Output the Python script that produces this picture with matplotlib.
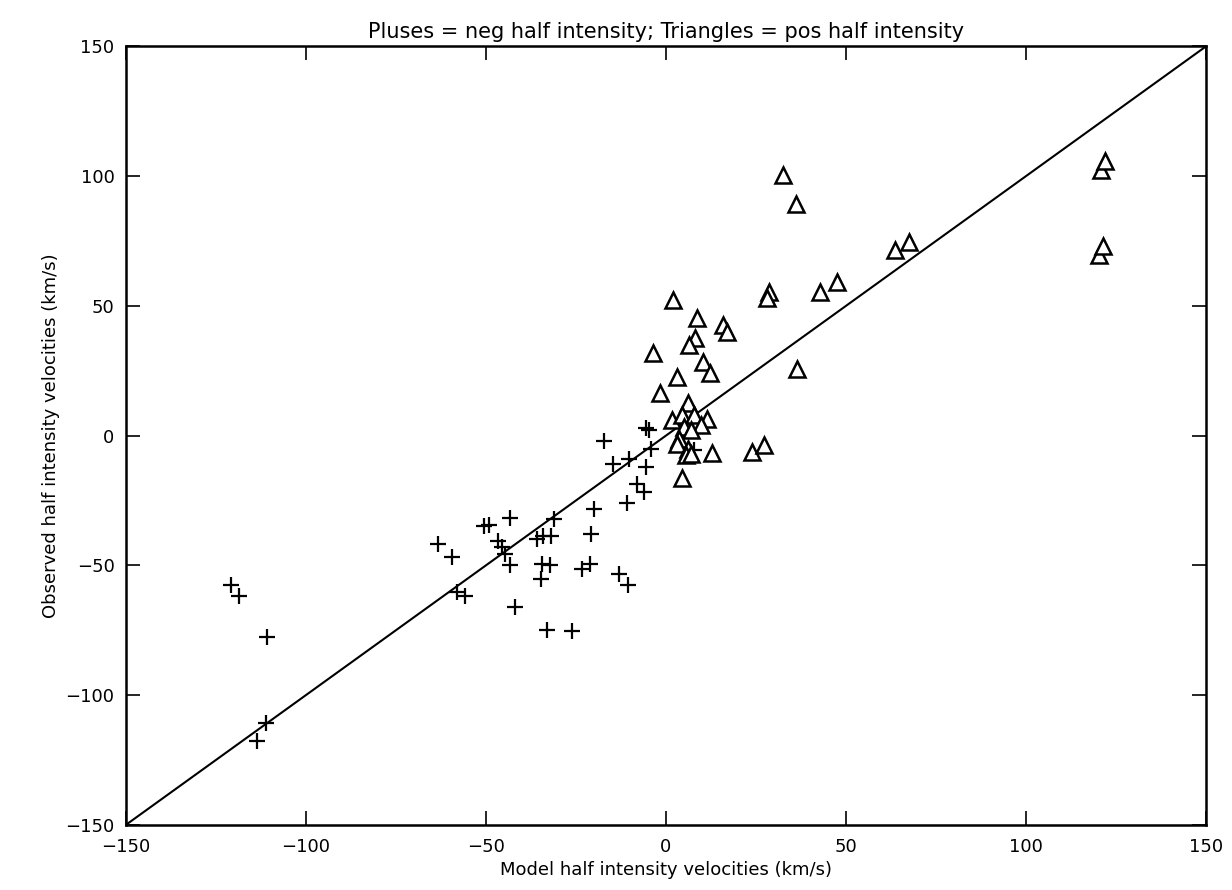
import numpy as np
import matplotlib
matplotlib.use("Agg")
import matplotlib.pyplot as plt

# negative half intensity (pluses): model, observed
neg_model = [-17.2, -14.8, -10.2, -5.6, -4.2, -7.9, -6.0, -10.9, -20.0, -20.9,
             -43.4, -50.6, -49.0, -63.4, -59.4, -46.7, -45.5, -44.6, -43.4,
             -31.1, -35.7, -34.0, -31.8, -34.5, -32.2, -34.8, -23.2, -21.1,
             -13.0, -10.5, -58.0, -55.7, -42.0, -33.1, -26.0,
             -120.7, -118.6, -110.8, -110.9, -113.4, -5.6, -4.6, 7.4, 7.9]
neg_obs = [-2.2, -10.8, -8.9, -12.1, -5.0, -18.5, -21.7, -26.0, -28.3, -37.9,
           -31.8, -34.9, -34.4, -41.7, -46.8, -40.4, -42.9, -45.6, -49.9,
           -32.0, -39.8, -38.5, -38.7, -49.4, -49.8, -55.4, -51.4, -49.4,
           -53.3, -57.5, -60.1, -61.9, -66.0, -75.0, -75.4,
           -57.6, -61.8, -77.7, -110.8, -117.8, 3.0, 2.2, 5.3, -5.7]

# positive half intensity (triangles): model, observed
pos_model = [1.9, 8.5, 15.8, 16.9, 8.1, 6.5, -3.7, 10.2, 12.3, 3.1, -1.6, 6.0,
             1.6, 4.6, 7.9, 11.4, 9.7, 5.1, 7.0, 3.7, 3.2, 6.0, 5.6, 7.0,
             12.8, 24.0, 27.2, 4.5, 36.5, 28.6, 28.1, 32.5, 36.2, 63.6, 67.6,
             42.7, 47.6, 120.9, 122.0, 120.3, 121.3]
pos_obs = [52.2, 45.2, 42.8, 39.8, 37.7, 35.0, 32.0, 28.2, 24.3, 22.7, 16.6, 12.7,
           5.9, 7.8, 7.8, 6.3, 4.0, 3.4, 2.0, -1.2, -3.1, -5.0, -7.6, -6.9,
           -6.6, -6.3, -3.5, -16.3, 25.6, 55.5, 52.9, 100.5, 89.2, 71.4, 74.5,
           55.2, 59.1, 102.3, 105.8, 69.6, 72.9]

ticks = [-150, -100, -50, 0, 50, 100, 150]

plt.rcParams['font.family'] = ['DejaVu Sans']
fig = plt.figure(figsize=(12.32, 8.9), dpi=100)
ax = fig.add_axes([0.102, 0.073, 0.877, 0.875])

ax.plot([-150, 150], [-150, 150], color='black', lw=1.5)
ax.plot(neg_model, neg_obs, linestyle='none', marker='+', ms=12, mew=1.6,
        color='black')
ax.plot(pos_model, pos_obs, linestyle='none', marker='^', ms=11, mew=1.8,
        mfc='white', mec='black')

ax.set_xlim(-150, 150)
ax.set_ylim(-150, 150)
ax.set_xticks(ticks)
ax.set_yticks(ticks)
ax.tick_params(direction='in', length=10, width=1.2, top=True, right=True,
               labelsize=13)
ax.tick_params(axis='x', pad=9)
ax.tick_params(axis='y', pad=8)
for s in ax.spines.values():
    s.set_linewidth(1.8)

ax.set_title('Pluses = neg half intensity; Triangles = pos half intensity',
             fontsize=15, pad=6)
ax.set_xlabel('Model half intensity velocities (km/s)', fontsize=13, labelpad=4)
ax.set_ylabel('Observed half intensity velocities (km/s)', fontsize=13)

fig.savefig('out.png', dpi=100)
